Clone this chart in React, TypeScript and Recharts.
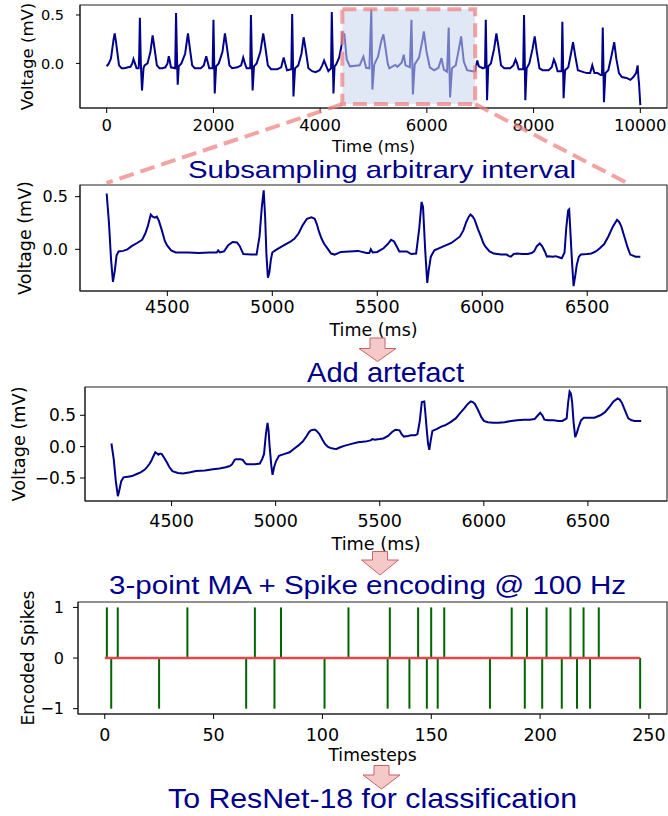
import React from "react";
import { LineChart, Line, XAxis, YAxis, ReferenceArea, ComposedChart, Bar } from "recharts";

const W = 668;
const PLOT_RIGHT = 667;
const TICK_FONT = "DejaVu Sans, sans-serif";
const TITLE_FONT = "Liberation Sans, Arial, sans-serif";
const NAVY = "#00008b";
const CORAL = "#f08080";
const SPIKE_GREEN = "#006400";
const BASE_RED = "#e2474b";

// full 10 s recording, [ms, mV]
const overviewTrace: [number, number][] = [
  [0, -0.03], [40, 0.0], [80, 0.05], [130, 0.25], [151, 0.31], [180, 0.2], [231, -0.02], [280, -0.05], [330, -0.05], [400, -0.04],
  [446, -0.035], [480, 0.0], [502, 0.045], [530, 0.0], [560, -0.05], [600, -0.05], [610, 0.1], [622, 0.47], [640, 0.0], [662, -0.28],
  [690, -0.05], [710, -0.02], [765, 0.0], [820, 0.12], [861, 0.29], [890, 0.18], [941, -0.02], [990, -0.05], [1044, -0.05], [1100, -0.04],
  [1140, 0.0], [1164, 0.075], [1185, 0.02], [1204, -0.04], [1284, -0.05], [1300, 0.52], [1316, 0.1], [1331, -0.22], [1350, -0.03], [1400, 0.0],
  [1470, 0.1], [1523, 0.31], [1560, 0.15], [1602, -0.02], [1650, -0.05], [1762, -0.05], [1820, -0.02], [1866, 0.075], [1890, 0.02], [1922, -0.05],
  [1985, -0.05], [2001, 0.45], [2012, 0.1], [2025, -0.31], [2050, -0.03], [2100, 0.0], [2170, 0.12], [2216, 0.31], [2250, 0.18], [2300, -0.02],
  [2350, -0.05], [2450, -0.04], [2520, -0.02], [2559, 0.06], [2590, 0.0], [2623, -0.05], [2690, -0.05], [2703, 0.5], [2718, 0.1], [2735, -0.28],
  [2760, -0.03], [2810, 0.0], [2880, 0.12], [2934, 0.31], [2970, 0.18], [3020, -0.02], [3080, -0.06], [3197, -0.06], [3270, -0.04], [3317, 0.06],
  [3345, 0.0], [3380, -0.07], [3460, -0.06], [3476, 0.51], [3488, 0.1], [3500, -0.34], [3530, -0.05], [3590, -0.02], [3650, 0.1], [3691, 0.27],
  [3730, 0.14], [3780, -0.05], [3850, -0.08], [3915, -0.09], [3990, -0.07], [4040, -0.02], [4074, 0.03], [4110, -0.02], [4154, -0.08], [4205, -0.05],
  [4218, 0.53], [4235, 0.1], [4250, -0.31], [4270, -0.03], [4300, -0.01], [4356, 0.06], [4407, 0.2], [4421, 0.33], [4441, 0.29], [4453, 0.31],
  [4498, 0.04], [4559, -0.03], [4740, -0.02], [4811, 0.07], [4862, -0.045], [4923, -0.05], [4959, 0.56], [4979, -0.27], [5014, -0.01], [5084, 0.07],
  [5145, 0.23], [5186, 0.3], [5222, 0.17], [5266, 0.0], [5297, -0.05], [5408, -0.015], [5449, -0.035], [5530, 0.01], [5566, 0.09], [5600, -0.02],
  [5681, -0.04], [5711, 0.45], [5738, -0.32], [5772, -0.01], [5853, 0.06], [5924, 0.26], [5944, 0.33], [5994, 0.12], [6055, -0.04], [6136, -0.07],
  [6217, -0.045], [6274, 0.055], [6318, -0.065], [6379, -0.085], [6409, 0.37], [6435, -0.35], [6470, -0.05], [6541, -0.02], [6622, 0.215], [6642, 0.28],
  [6692, 0.02], [6753, -0.07], [6850, -0.08], [6905, -0.08], [6944, 0.03], [6975, -0.03], [7050, -0.05], [7090, -0.04], [7104, 0.45], [7118, 0.0],
  [7128, -0.38], [7150, -0.03], [7200, 0.0], [7260, 0.15], [7303, 0.31], [7340, 0.18], [7390, -0.02], [7450, -0.05], [7560, -0.05], [7620, -0.02],
  [7662, 0.04], [7690, 0.0], [7720, -0.06], [7805, -0.06], [7821, 0.5], [7834, 0.05], [7845, -0.38], [7870, -0.05], [7920, 0.0], [7980, 0.15],
  [8021, 0.28], [8060, 0.12], [8110, -0.05], [8170, -0.07], [8280, -0.07], [8340, -0.04], [8380, 0.04], [8410, 0.0], [8450, -0.08], [8525, -0.08],
  [8539, 0.43], [8552, 0.0], [8562, -0.36], [8590, -0.07], [8650, -0.04], [8700, 0.1], [8739, 0.22], [8780, 0.08], [8830, -0.07], [8937, -0.09],
  [9000, -0.1], [9060, -0.1], [9100, -0.02], [9140, -0.1], [9200, -0.1], [9260, -0.12], [9282, -0.12], [9296, 0.37], [9308, 0.0], [9318, -0.4],
  [9345, -0.1], [9400, -0.07], [9460, 0.08], [9511, 0.22], [9550, 0.05], [9600, -0.1], [9655, -0.14], [9740, -0.15], [9814, -0.17], [9870, -0.14],
  [9920, -0.1], [9950, -0.02], [9965, -0.15], [9975, -0.2], [10000, -0.43],
];

// highlighted window in the overview (ms, mV)
const zoomWindowMs = [4416, 6905];
const zoomWindowMv = [-0.42, 0.56];
// where the zoom guides land on the second panel
const zoomTargetMs = [4210, 6690];

// subsampled interval
const intervalTrace: [number, number][] = [
  [4211, 0.53], [4222, 0.25], [4232, -0.1], [4241, -0.31], [4250, -0.2], [4258, -0.06], [4268, -0.02], [4290, -0.015], [4310, 0.0], [4330, 0.03],
  [4356, 0.06], [4380, 0.09], [4395, 0.15], [4407, 0.22], [4421, 0.33], [4430, 0.31], [4441, 0.3], [4450, 0.31], [4460, 0.27], [4474, 0.18],
  [4488, 0.08], [4498, 0.04], [4518, -0.01], [4540, -0.03], [4600, -0.03], [4650, -0.035], [4700, -0.03], [4735, -0.03], [4742, -0.01], [4750, -0.03],
  [4770, -0.02], [4790, 0.04], [4811, 0.07], [4832, 0.065], [4845, 0.03], [4862, -0.045], [4900, -0.05], [4925, -0.05], [4939, 0.12], [4950, 0.4],
  [4959, 0.56], [4966, 0.3], [4972, -0.05], [4979, -0.27], [4986, -0.22], [4993, -0.1], [5000, -0.03], [5014, -0.01], [5044, 0.025], [5084, 0.07],
  [5105, 0.1], [5125, 0.15], [5145, 0.23], [5165, 0.29], [5186, 0.305], [5202, 0.29], [5212, 0.24], [5222, 0.17], [5235, 0.1], [5246, 0.055],
  [5266, 0.0], [5280, -0.04], [5297, -0.05], [5327, -0.025], [5368, -0.02], [5408, -0.015], [5449, -0.035], [5462, -0.035], [5469, 0.0], [5478, -0.03],
  [5500, -0.025], [5530, 0.01], [5550, 0.05], [5566, 0.09], [5580, 0.075], [5592, 0.03], [5605, -0.02], [5641, -0.02], [5661, -0.045], [5685, -0.04],
  [5700, 0.2], [5711, 0.45], [5718, 0.4], [5728, 0.0], [5738, -0.32], [5745, -0.2], [5755, -0.07], [5772, -0.01], [5812, 0.025], [5853, 0.06],
  [5893, 0.12], [5910, 0.18], [5924, 0.26], [5936, 0.31], [5944, 0.33], [5955, 0.31], [5964, 0.28], [5980, 0.19], [5994, 0.12], [6005, 0.06],
  [6015, 0.025], [6035, -0.02], [6055, -0.04], [6090, -0.05], [6116, -0.05], [6128, -0.065], [6136, -0.07], [6150, -0.045], [6166, -0.04], [6190, -0.045],
  [6217, -0.045], [6235, -0.035], [6247, -0.02], [6260, 0.03], [6274, 0.055], [6285, 0.03], [6298, -0.02], [6308, -0.07], [6318, -0.065], [6335, -0.07],
  [6350, -0.065], [6365, -0.075], [6379, -0.085], [6392, -0.03], [6400, 0.2], [6409, 0.37], [6414, 0.38], [6419, 0.2], [6427, -0.1], [6435, -0.35],
  [6443, -0.25], [6450, -0.15], [6460, -0.07], [6470, -0.05], [6500, -0.045], [6520, -0.04], [6541, -0.02], [6560, 0.01], [6581, 0.05], [6600, 0.12],
  [6622, 0.215], [6642, 0.28], [6652, 0.26], [6662, 0.22], [6677, 0.12], [6692, 0.02], [6705, -0.05], [6712, -0.055], [6730, -0.07], [6753, -0.07],
];

// same interval with baseline-wander artefact
const artefactTrace: [number, number][] = [
  [4211, 0.05], [4222, -0.2], [4232, -0.55], [4242, -0.79], [4250, -0.68], [4258, -0.55], [4269, -0.49], [4290, -0.48], [4310, -0.47], [4330, -0.44],
  [4351, -0.41], [4370, -0.37], [4381, -0.33], [4395, -0.27], [4402, -0.23], [4413, -0.15], [4422, -0.09], [4430, -0.11], [4437, -0.13], [4445, -0.11],
  [4453, -0.12], [4465, -0.18], [4477, -0.25], [4490, -0.33], [4504, -0.39], [4530, -0.42], [4555, -0.43], [4590, -0.41], [4617, -0.39], [4660, -0.38],
  [4699, -0.36], [4730, -0.35], [4760, -0.33], [4780, -0.31], [4791, -0.28], [4803, -0.21], [4811, -0.2], [4830, -0.2], [4842, -0.21], [4855, -0.27],
  [4862, -0.28], [4900, -0.28], [4924, -0.27], [4935, -0.2], [4944, -0.12], [4953, 0.2], [4961, 0.38], [4966, 0.25], [4971, 0.0], [4979, -0.3],
  [4985, -0.45], [4993, -0.32], [5002, -0.23], [5016, -0.145], [5040, -0.12], [5067, -0.09], [5090, -0.03], [5108, 0.016], [5130, 0.08], [5149, 0.17],
  [5160, 0.23], [5169, 0.26], [5180, 0.27], [5190, 0.27], [5200, 0.24], [5210, 0.2], [5225, 0.11], [5237, 0.043], [5250, 0.0], [5262, -0.02],
  [5280, -0.035], [5292, -0.038], [5310, -0.01], [5333, 0.016], [5360, 0.04], [5395, 0.07], [5430, 0.08], [5456, 0.1], [5465, 0.12], [5476, 0.11],
  [5500, 0.12], [5517, 0.13], [5540, 0.17], [5558, 0.23], [5575, 0.27], [5595, 0.26], [5605, 0.2], [5616, 0.16], [5635, 0.17], [5650, 0.18],
  [5670, 0.18], [5681, 0.2], [5692, 0.4], [5702, 0.71], [5714, 0.72], [5720, 0.5], [5726, 0.26], [5732, 0.05], [5738, -0.05], [5745, 0.1],
  [5753, 0.25], [5773, 0.28], [5795, 0.32], [5814, 0.34], [5840, 0.39], [5865, 0.45], [5890, 0.55], [5906, 0.61], [5920, 0.67], [5937, 0.72],
  [5947, 0.71], [5957, 0.68], [5970, 0.6], [5988, 0.47], [6000, 0.41], [6019, 0.39], [6045, 0.38], [6070, 0.38], [6100, 0.39], [6131, 0.41],
  [6160, 0.42], [6193, 0.43], [6220, 0.43], [6244, 0.44], [6260, 0.5], [6271, 0.54], [6281, 0.5], [6291, 0.43], [6310, 0.42], [6336, 0.42],
  [6357, 0.41], [6377, 0.41], [6398, 0.45], [6405, 0.7], [6412, 0.88], [6418, 0.85], [6424, 0.72], [6431, 0.4], [6439, 0.15], [6447, 0.22],
  [6455, 0.31], [6467, 0.42], [6480, 0.46], [6531, 0.46], [6560, 0.5], [6582, 0.55], [6600, 0.62], [6623, 0.72], [6643, 0.77], [6653, 0.75],
  [6663, 0.7], [6678, 0.58], [6694, 0.45], [6710, 0.42], [6725, 0.41], [6756, 0.41],
];

// encoded spikes (timestep index)
const posSpikeSteps = [1, 6, 38, 69, 81, 112, 131, 144, 150, 156, 187, 194, 203, 214, 220, 227];
const negSpikeSteps = [3, 25, 65, 78, 101, 130, 140, 148, 153, 177, 193, 201, 210, 217, 223, 246];
const baselineSteps = [0, 246];

const overviewTicks = [0, 2000, 4000, 6000, 8000, 10000];
const intervalTicks = [4500, 5000, 5500, 6000, 6500];
const stepTicks = [0, 50, 100, 150, 200, 250];
const voltTicksShort = [0, 0.5];
const voltTicksWide = [-0.5, 0, 0.5];
const spikeTicks = [-1, 0, 1];

const stageTitles = [
  { text: "Subsampling arbitrary interval", x: 188, y: 177.7, len: 388, size: 24.8 },
  { text: "Add artefact", x: 307, y: 382, len: 157, size: 28 },
  { text: "3-point MA + Spike encoding @ 100 Hz", x: 109, y: 593.5, len: 517, size: 26 },
  { text: "To ResNet-18 for classification", x: 168, y: 808, len: 409, size: 28 },
];

// block arrows between stages: centre, shaft top, head top, tip
const arrows = [
  { cx: 377.5, y0: 338, y1: 348.5, y2: 361.5 },
  { cx: 380, y0: 551.5, y1: 560, y2: 575 },
  { cx: 381.5, y0: 765.5, y1: 775, y2: 789 },
];

type Panel = {
  top: number;
  height: number;
  plotLeft: number;
  plotTop: number;
  plotBottom: number;
  xDomain: [number, number];
  yDomain: [number, number];
  xTicks: number[];
  yTicks: number[];
  xTickFs: number;
  yTickFs: number;
  xTickMargin: number;
  yTickMargin: number;
  yTickSize: number;
  labelFs: number;
  yLabelX: number;
  xLabelDy: number;
  xLabel: string;
  yLabel: string;
};

const P1: Panel = {
  top: 0, height: 160, plotLeft: 80, plotTop: 5, plotBottom: 108,
  xDomain: [-500, 10500], yDomain: [-0.46, 0.603], xTicks: overviewTicks, yTicks: voltTicksShort,
  xTickFs: 16.5, yTickFs: 14.5, xTickMargin: 6, yTickMargin: 12, yTickSize: 4,
  labelFs: 16.5, yLabelX: 27, xLabelDy: 43.5, xLabel: "Time (ms)", yLabel: "Voltage (mV)",
};
const P2: Panel = {
  top: 180, height: 160, plotLeft: 80, plotTop: 185, plotBottom: 291,
  xDomain: [4084, 6880], yDomain: [-0.396, 0.611], xTicks: intervalTicks, yTicks: voltTicksShort,
  xTickFs: 17.5, yTickFs: 16, xTickMargin: 5, yTickMargin: 7, yTickSize: 5,
  labelFs: 17.5, yLabelX: 24.5, xLabelDy: 44.7, xLabel: "Time (ms)", yLabel: "Voltage (mV)",
};
const P3: Panel = {
  top: 382, height: 175, plotLeft: 85, plotTop: 387, plotBottom: 501,
  xDomain: [4084, 6880], yDomain: [-0.867, 0.951], xTicks: intervalTicks, yTicks: voltTicksWide,
  xTickFs: 17.5, yTickFs: 17, xTickMargin: 8.5, yTickMargin: 4, yTickSize: 5,
  labelFs: 17.7, yLabelX: 19, xLabelDy: 49.3, xLabel: "Time (ms)", yLabel: "Voltage (mV)",
};
const P4: Panel = {
  top: 575, height: 192, plotLeft: 78, plotTop: 602, plotBottom: 714,
  xDomain: [-12.3, 258.3], yDomain: [-1.105, 1.107], xTicks: stepTicks, yTicks: spikeTicks,
  xTickFs: 17.5, yTickFs: 16, xTickMargin: 10, yTickMargin: 9, yTickSize: 5,
  labelFs: 17.2, yLabelX: 27.7, xLabelDy: 47.4, xLabel: "Timesteps", yLabel: "Encoded Spikes",
};

const minus = (s: string) => s.replace("-", "\u2212");
const fmtVolt = (v: number) => minus(v.toFixed(1));
const fmtInt = (v: number) => minus(String(v));

const xTitle = (p: Panel) => (props: any) => {
  const vb = props.viewBox || {};
  return (
    <text x={vb.x + vb.width / 2} y={vb.y + p.xLabelDy} textAnchor="middle"
      fontFamily={TICK_FONT} fontSize={p.labelFs} fill="#000">
      {p.xLabel}
    </text>
  );
};

const yTitle = (p: Panel) => (props: any) => {
  const vb = props.viewBox || {};
  const cy = vb.y + vb.height / 2;
  return (
    <text x={p.yLabelX} y={cy} transform={`rotate(-90 ${p.yLabelX} ${cy})`} textAnchor="middle"
      dominantBaseline="central" fontFamily={TICK_FONT} fontSize={p.labelFs} fill="#000">
      {p.yLabel}
    </text>
  );
};

const chartBox = (p: Panel) => ({
  width: W,
  height: p.height,
  margin: { top: p.plotTop - p.top, right: W - PLOT_RIGHT, bottom: 0, left: 0 },
});

// axes shared by all four panels, plus the full box frame
const renderAxes = (p: Panel, yFmt: (v: number) => string) => [
  <XAxis key="x" xAxisId="b" dataKey="t" type="number" domain={p.xDomain} ticks={p.xTicks} interval={0}
    allowDataOverflow height={p.top + p.height - p.plotBottom} tickSize={5} tickMargin={p.xTickMargin}
    tick={{ fill: "#000", fontSize: p.xTickFs, fontFamily: TICK_FONT }}
    tickLine={{ stroke: "#000" }} axisLine={{ stroke: "#222" }} label={xTitle(p)} />,
  <YAxis key="y" yAxisId="l" type="number" domain={p.yDomain} ticks={p.yTicks} interval={0}
    allowDataOverflow width={p.plotLeft} tickSize={p.yTickSize} tickMargin={p.yTickMargin}
    tickFormatter={yFmt} tick={{ fill: "#000", fontSize: p.yTickFs, fontFamily: TICK_FONT }}
    tickLine={{ stroke: "#000" }} axisLine={{ stroke: "#222" }} label={yTitle(p)} />,
  <ReferenceArea key="frame" xAxisId="b" yAxisId="l" x1={p.xDomain[0]} x2={p.xDomain[1]}
    y1={p.yDomain[0]} y2={p.yDomain[1]} fill="none" stroke="#222" strokeWidth={1.1} ifOverflow="visible" />,
];

const toRows = (trace: [number, number][]) => trace.map(([t, v]) => ({ t, v }));

const TracePanel = ({ p, trace, highlight }: { p: Panel; trace: [number, number][]; highlight?: boolean }) => (
  <div style={{ position: "absolute", left: 0, top: p.top, width: W, height: p.height }}>
    <LineChart {...chartBox(p)} data={toRows(trace)}>
      {renderAxes(p, fmtVolt)}
      <Line xAxisId="b" yAxisId="l" type="linear" dataKey="v" stroke={NAVY} strokeWidth={2}
        dot={false} activeDot={false} isAnimationActive={false} />
      {highlight && (
        <ReferenceArea xAxisId="b" yAxisId="l" x1={zoomWindowMs[0]} x2={zoomWindowMs[1]}
          y1={zoomWindowMv[0]} y2={zoomWindowMv[1]} fill="#c9d6f0" fillOpacity={0.57}
          stroke={CORAL} strokeOpacity={0.72} strokeWidth={4} strokeDasharray="14 7" zIndex={450} />
      )}
    </LineChart>
  </div>
);

const spikeRows = (() => {
  const steps = Array.from(new Set([...baselineSteps, ...posSpikeSteps, ...negSpikeSteps])).sort((a, b) => a - b);
  return steps.map((t) => ({
    t,
    s: posSpikeSteps.includes(t) ? 1 : negSpikeSteps.includes(t) ? -1 : undefined,
    z: baselineSteps.includes(t) ? 0 : undefined,
  }));
})();

const SpikePanel = ({ p }: { p: Panel }) => (
  <div style={{ position: "absolute", left: 0, top: p.top, width: W, height: p.height }}>
    <ComposedChart {...chartBox(p)} data={spikeRows} barGap={0}>
      {renderAxes(p, fmtInt)}
      <Bar xAxisId="b" yAxisId="l" dataKey="s" fill={SPIKE_GREEN} barSize={2} isAnimationActive={false} />
      <Line xAxisId="b" yAxisId="l" type="linear" dataKey="z" stroke={BASE_RED} strokeWidth={2.4}
        connectNulls dot={false} activeDot={false} isAnimationActive={false} />
    </ComposedChart>
  </div>
);

// pixel mapping for the overlay guides, from the panel layouts
const px = (p: Panel, t: number) =>
  p.plotLeft + ((t - p.xDomain[0]) / (p.xDomain[1] - p.xDomain[0])) * (PLOT_RIGHT - p.plotLeft);
const py = (p: Panel, v: number) =>
  p.plotTop + ((p.yDomain[1] - v) / (p.yDomain[1] - p.yDomain[0])) * (p.plotBottom - p.plotTop);

const Overlay = () => {
  const yFrom = py(P1, zoomWindowMv[0]);
  const yTo = P2.plotTop - 2;
  return (
    <svg width={W} height={816} style={{ position: "absolute", left: 0, top: 0, pointerEvents: "none" }}>
      {zoomWindowMs.map((ms, i) => (
        <line key={i} x1={px(P1, ms)} y1={yFrom} x2={px(P2, zoomTargetMs[i])} y2={yTo}
          stroke={CORAL} strokeOpacity={0.72} strokeWidth={4} strokeDasharray="15 7" />
      ))}
      {arrows.map((a, i) => (
        <polygon key={i}
          points={`${a.cx - 7.5},${a.y0} ${a.cx + 7.5},${a.y0} ${a.cx + 7.5},${a.y1} ${a.cx + 18.5},${a.y1} ${a.cx},${a.y2} ${a.cx - 18.5},${a.y1} ${a.cx - 7.5},${a.y1}`}
          fill="#f6c9c9" stroke="#c86464" strokeWidth={1} />
      ))}
      {stageTitles.map((s) => (
        <text key={s.text} x={s.x} y={s.y} textLength={s.len} lengthAdjust="spacingAndGlyphs"
          fontFamily={TITLE_FONT} fontSize={s.size} fill={NAVY}>
          {s.text}
        </text>
      ))}
    </svg>
  );
};

export default function App() {
  return (
    <div style={{ position: "absolute", left: 0, top: 0, width: W, height: 816, background: "#fff" }}>
      <TracePanel p={P1} trace={overviewTrace} highlight />
      <TracePanel p={P2} trace={intervalTrace} />
      <TracePanel p={P3} trace={artefactTrace} />
      <SpikePanel p={P4} />
      <Overlay />
    </div>
  );
}
